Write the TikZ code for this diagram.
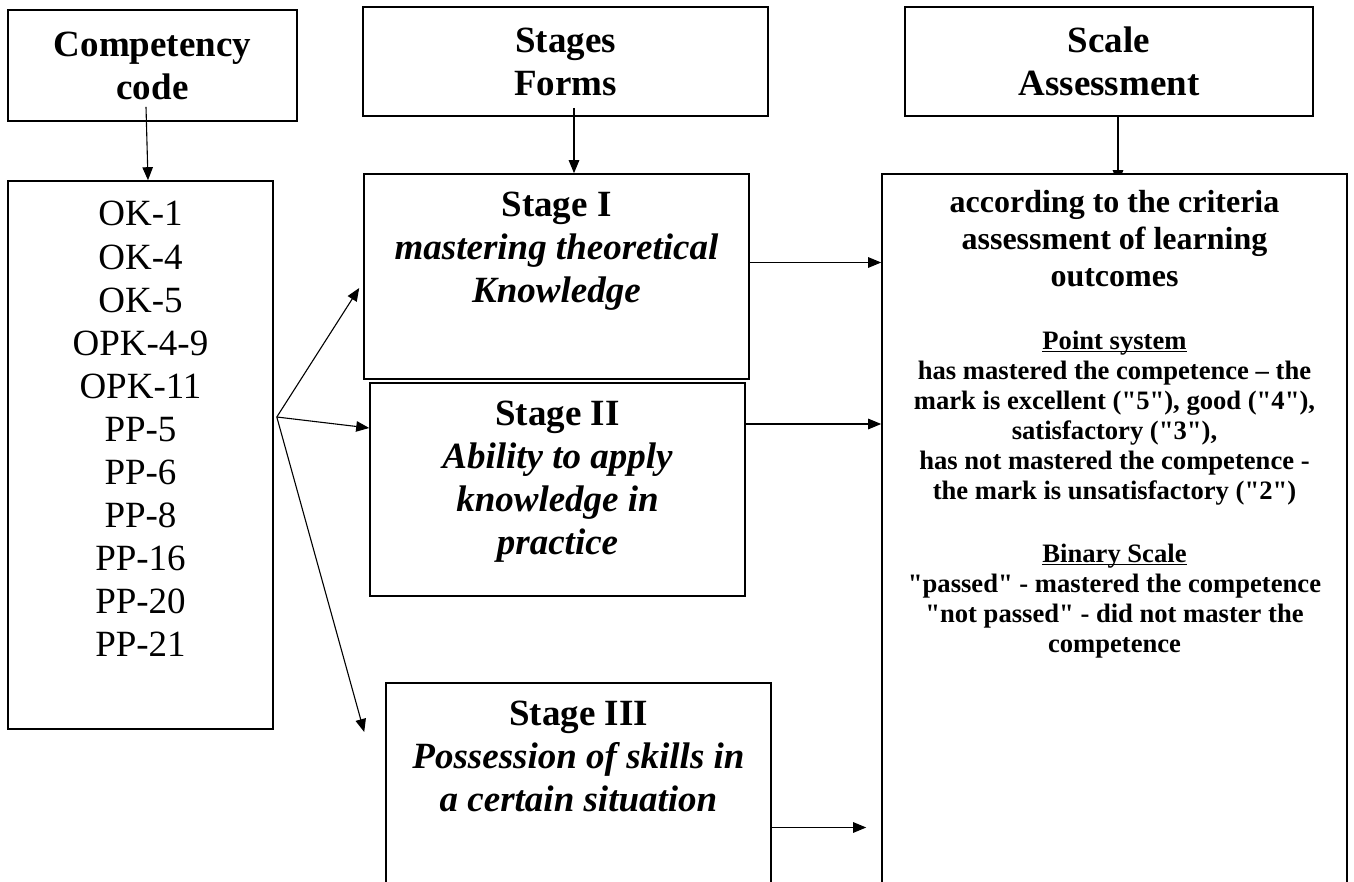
\documentclass[tikz,border=0pt]{standalone}
\usepackage{fontspec}
\setmainfont{Liberation Serif}
\usetikzlibrary{positioning,arrows.meta,backgrounds}

\newcommand{\scaleul}[1]{\leavevmode\setbox0\hbox{#1}\rlap{\rule[-2.5pt]{\wd0}{1.2pt}}\box0}
\newcommand{\qq}[1]{\textquotedbl#1\textquotedbl}
\newcommand{\fontspace}{\leavevmode\spaceskip=0pt\xspaceskip=0pt\relax}

\begin{document}
\begin{tikzpicture}[x=1pt, y=-1pt,
  box/.style={draw, line width=1.6pt, inner sep=0pt, fill=white},
  head/.style={box, align=center, font=\bfseries\fontsize{37}{43}\selectfont},
  bigtxt/.style={inner sep=0pt, align=center, font=\fontsize{37}{43.1}\selectfont},
  stagetxt/.style={inner sep=0pt, text width=380pt, font=\bfseries\fontsize{37}{43}\selectfont},
  link/.style={-{Triangle[length=13pt,width=10.5pt]}, line width=1.1pt}]
  \useasboundingbox (0,0) rectangle (1354,882);
  \clip (0,0) rectangle (1354,882);

  \node[head, minimum width=289pt, minimum height=111pt] (codehead) at (152.5,65.5) {Competency\\code};
  \node[head, minimum width=405pt, minimum height=109pt] (stagehead) at (565.5,61.5) {Stages\\Forms};
  \node[head, minimum width=408pt, minimum height=109pt] (scalehead) at (1109,61.5) {Scale\\Assessment};

  \node[box, minimum width=265pt, minimum height=548pt] (codes) at (140.5,455) {};
  \node[bigtxt, below=21pt of codes.north] (codelist) {OK-1\\OK-4\\OK-5\\OPK-4-9\\OPK-11\\PP-5\\PP-6\\PP-8\\PP-16\\PP-20\\PP-21};

  \node[box, minimum width=385pt, minimum height=205pt] (st1) at (556.5,276.5) {};
  \node[box, minimum width=375pt, minimum height=213pt] (st2) at (557.5,489.5) {};
  \node[box, minimum width=385pt, minimum height=217pt] (st3) at (578.5,791.5) {};
  \node[stagetxt, below=19pt of st1.north] (st1txt) {\centering\fontspace Stage I\\{\itshape mastering theoretical\\Knowledge}\par};
  \node[stagetxt, below=19pt of st2.north] (st2txt) {\centering\fontspace Stage II\\{\itshape Ability to apply\\knowledge in\\practice}\par};
  \node[stagetxt, below=19pt of st3.north] (st3txt) {\centering\fontspace Stage III\\{\itshape Possession of skills in\\a certain situation}\par};

  \node[box, minimum width=465pt, minimum height=726pt] (scalebox) at (1114.5,537) {};
  \node[inner sep=0pt, text width=450pt, font=\bfseries, below=17pt of scalebox.north] (criteria) {%
    \centering
    {\fontsize{32}{37}\selectfont\fontspace according to the criteria\\assessment of learning\\outcomes\par}
    \vspace{33pt}
    {\fontsize{26.6}{30}\selectfont\fontspace \scaleul{Point system}\\
      has mastered the competence -- the\\
      mark is excellent (\qq{5}), good (\qq{4}),\\
      satisfactory (\qq{3}),\\
      has not mastered the competence -\\
      the mark is unsatisfactory (\qq{2})\par}
    \vspace{33pt}
    {\fontsize{26.6}{30}\selectfont\fontspace \scaleul{Binary Scale}\\
      \qq{passed} - mastered the competence\\
      \qq{not passed} - did not master the\\
      competence\par}};

  \draw[link] ([xshift=-6.5pt,yshift=15pt]codehead.south) -- ([xshift=7.5pt]codes.north);
  \draw[link] ([xshift=8.5pt,yshift=9pt]stagehead.south) -- ([xshift=17.5pt]st1.north);
  \begin{scope}[on background layer]
    \draw[link] ([xshift=9pt,yshift=10pt]scalehead.south) -- ([xshift=3.5pt,yshift=-10pt]scalebox.north);
  \end{scope}

  \coordinate (fork) at ([xshift=3pt,yshift=38pt]codes.east);
  \draw[link] (fork) -- ([xshift=-4pt,yshift=-11.5pt]st1.west);
  \draw[link] (fork) -- ([yshift=61.5pt]st2.west);
  \draw[link] (fork) -- ([xshift=-21pt,yshift=59.5pt]st3.west);

  \coordinate (out1) at ([yshift=14pt]st1.east);
  \coordinate (out2) at ([yshift=65.5pt]st2.east);
  \coordinate (out3) at ([yshift=-36pt]st3.east);
  \draw[link] (out1) -- (out1 -| scalebox.west);
  \draw[link] (out2) -- (out2 -| scalebox.west);
  \draw[link, shorten >=15pt] (out3) -- (out3 -| scalebox.west);
\end{tikzpicture}
\end{document}
